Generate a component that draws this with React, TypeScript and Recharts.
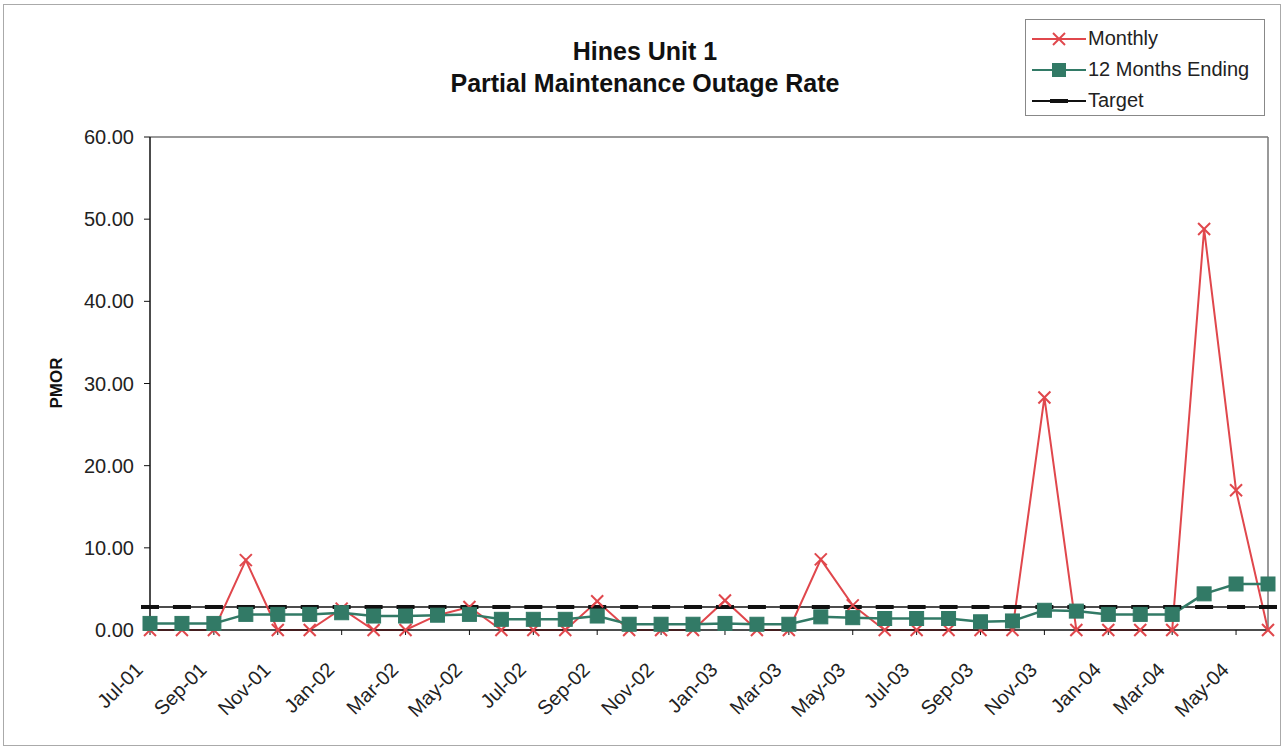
import React from "react";
import {
  LineChart,
  Line,
  XAxis,
  YAxis,
  ReferenceLine,
} from "recharts";

const months = [
  "Jul-01", "Aug-01", "Sep-01", "Oct-01", "Nov-01", "Dec-01",
  "Jan-02", "Feb-02", "Mar-02", "Apr-02", "May-02", "Jun-02",
  "Jul-02", "Aug-02", "Sep-02", "Oct-02", "Nov-02", "Dec-02",
  "Jan-03", "Feb-03", "Mar-03", "Apr-03", "May-03", "Jun-03",
  "Jul-03", "Aug-03", "Sep-03", "Oct-03", "Nov-03", "Dec-03",
  "Jan-04", "Feb-04", "Mar-04", "Apr-04", "May-04", "Jun-04",
];

const monthly = [
  0, 0, 0, 8.5, 0, 0,
  2.6, 0, 0, 1.8, 2.8, 0,
  0, 0, 3.5, 0, 0, 0,
  3.6, 0, 0, 8.6, 3.0, 0,
  0, 0, 0, 0, 28.3, 0,
  0, 0, 0, 48.8, 17.0, 0,
];

const twelveMonthsEnding = [
  0.8, 0.8, 0.8, 1.9, 1.9, 1.9,
  2.1, 1.7, 1.7, 1.8, 1.9, 1.3,
  1.3, 1.3, 1.7, 0.7, 0.7, 0.7,
  0.8, 0.7, 0.7, 1.6, 1.5, 1.4,
  1.4, 1.4, 1.0, 1.1, 2.4, 2.3,
  1.9, 1.9, 1.9, 4.4, 5.6, 5.6,
];

const target = months.map(() => 2.8);

const yTicks = [0, 10, 20, 30, 40, 50, 60];

const data = months.map((m, i) => ({
  month: m,
  monthly: monthly[i],
  ending: twelveMonthsEnding[i],
  target: target[i],
}));

const RED = "#e0474c";
const GREEN = "#327a66";
const FONT = "'Liberation Sans', Arial, sans-serif";

const XDot = (props: any) => {
  const { cx, cy } = props;
  if (cx == null || cy == null) return null;
  const s = 6;
  return (
    <g>
      <line x1={cx - s} y1={cy - s} x2={cx + s} y2={cy + s} stroke={RED} strokeWidth={2} />
      <line x1={cx - s} y1={cy + s} x2={cx + s} y2={cy - s} stroke={RED} strokeWidth={2} />
    </g>
  );
};

const SquareDot = (props: any) => {
  const { cx, cy } = props;
  if (cx == null || cy == null) return null;
  return <rect x={cx - 7} y={cy - 7} width={14} height={14} fill={GREEN} stroke={GREEN} />;
};

const DashDot = (props: any) => {
  const { cx, cy } = props;
  if (cx == null || cy == null) return null;
  return <rect x={cx - 9} y={cy - 2} width={18} height={4} fill="#111" />;
};

const XTick = (props: any) => {
  const { x, y, payload } = props;
  const ax = x - 6;
  const ay = y + 34;
  return (
    <text
      x={ax}
      y={ay}
      textAnchor="end"
      transform={`rotate(-45, ${ax}, ${ay})`}
      fontFamily={FONT}
      fontSize={20}
      fill="#222"
    >
      {payload.value}
    </text>
  );
};

const YTick = (props: any) => {
  const { x, y, payload } = props;
  return (
    <text x={x} y={y} dy={7} textAnchor="end" fontFamily={FONT} fontSize={20} fill="#222">
      {Number(payload.value).toFixed(2)}
    </text>
  );
};

const legendRows = [
  { label: "Monthly", color: RED, kind: "x" },
  { label: "12 Months Ending", color: GREEN, kind: "sq" },
  { label: "Target", color: "#111", kind: "dash" },
];

const LegendBox = () => (
  <div
    style={{
      position: "absolute",
      left: 1025,
      top: 19,
      border: "1px solid #888",
      width: 240,
      height: 97,
      boxSizing: "border-box",
      background: "#fff",
      paddingTop: 3,
    }}
  >
    {legendRows.map((r) => (
      <div key={r.label} style={{ display: "flex", alignItems: "center", height: 31 }}>
        <svg width={62} height={20} style={{ flex: "none" }}>
          <line x1={6} y1={10} x2={60} y2={10} stroke={r.color} strokeWidth={2} />
          {r.kind === "x" && (
            <g>
              <line x1={27} y1={4} x2={39} y2={16} stroke={RED} strokeWidth={2} />
              <line x1={27} y1={16} x2={39} y2={4} stroke={RED} strokeWidth={2} />
            </g>
          )}
          {r.kind === "sq" && <rect x={26} y={3} width={14} height={14} fill={GREEN} />}
          {r.kind === "dash" && <rect x={24} y={8} width={18} height={4} fill="#111" />}
        </svg>
        <span style={{ fontFamily: FONT, fontSize: 20, color: "#222", whiteSpace: "nowrap" }}>
          {r.label}
        </span>
      </div>
    ))}
  </div>
);

export default function App() {
  return (
    <div
      style={{
        position: "absolute",
        left: 0,
        top: 0,
        width: 1286,
        height: 751,
        background: "#fff",
        overflow: "hidden",
      }}
    >
      <div
        style={{
          position: "absolute",
          left: 3,
          top: 4,
          width: 1278,
          height: 742,
          border: "1px solid #aaa",
          boxSizing: "border-box",
        }}
      />
      <div
        style={{
          position: "absolute",
          left: 345,
          top: 35,
          width: 600,
          textAlign: "center",
          fontFamily: FONT,
          fontWeight: "bold",
          fontSize: 25,
          lineHeight: "32px",
          color: "#111",
        }}
      >
        <div>Hines Unit 1</div>
        <div>Partial Maintenance Outage Rate</div>
      </div>
      <div
        style={{
          position: "absolute",
          left: 57,
          top: 383,
          transform: "translate(-50%, -50%) rotate(-90deg)",
          fontFamily: FONT,
          fontWeight: "bold",
          fontSize: 17,
          color: "#111",
          whiteSpace: "nowrap",
        }}
      >
        PMOR
      </div>
      <LineChart
        width={1286}
        height={751}
        data={data}
        margin={{ top: 137, right: 18, bottom: 0, left: 70 }}
        style={{ position: "absolute", left: 0, top: 0 }}
      >
        <XAxis
          dataKey="month"
          interval={1}
          tick={<XTick />}
          tickLine={{ stroke: "#111" }}
          tickSize={5}
          axisLine={{ stroke: "#111", strokeWidth: 1.5 }}
          height={121}
        />
        <YAxis
          domain={[0, 60]}
          ticks={yTicks}
          tick={<YTick />}
          tickLine={{ stroke: "#111" }}
          tickSize={6}
          tickMargin={10}
          axisLine={{ stroke: "#111", strokeWidth: 1.5 }}
          width={80}
        />
        <ReferenceLine y={60} stroke="#777" strokeWidth={1.5} />
        <ReferenceLine x="Jun-04" stroke="#777" strokeWidth={1.5} />
        <Line
          type="linear"
          dataKey="target"
          name="Target"
          stroke="#111"
          strokeWidth={1.5}
          dot={<DashDot />}
          activeDot={false}
          isAnimationActive={false}
        />
        <Line
          type="linear"
          dataKey="monthly"
          name="Monthly"
          stroke={RED}
          strokeWidth={2}
          dot={<XDot />}
          activeDot={false}
          isAnimationActive={false}
        />
        <Line
          type="linear"
          dataKey="ending"
          name="12 Months Ending"
          stroke={GREEN}
          strokeWidth={2.5}
          dot={<SquareDot />}
          activeDot={false}
          isAnimationActive={false}
        />
      </LineChart>
      <LegendBox />
    </div>
  );
}
